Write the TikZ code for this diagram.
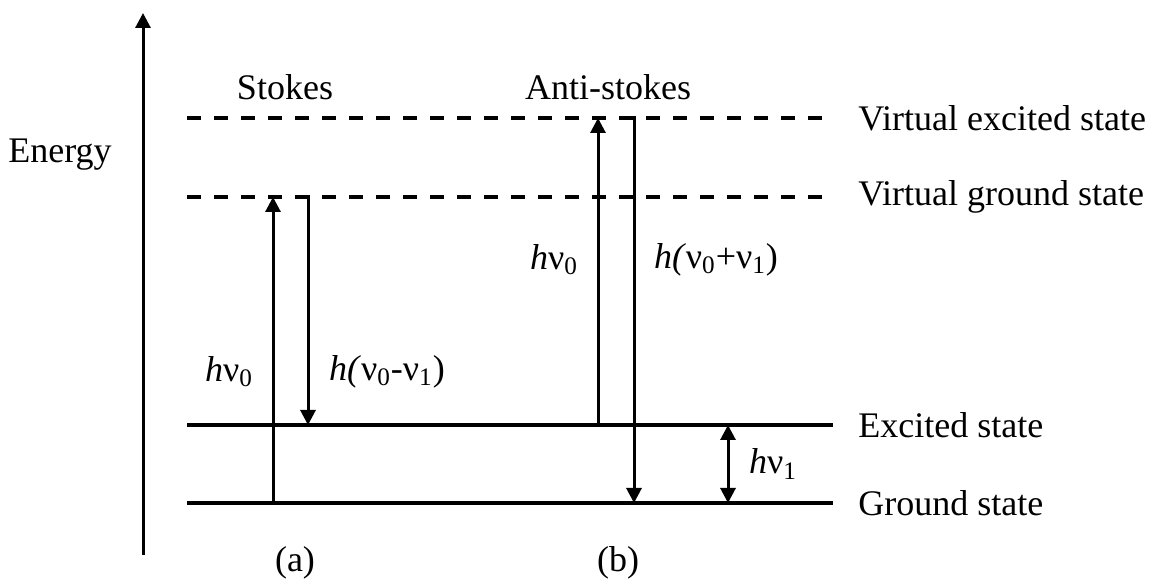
\documentclass[tikz,border=0pt]{standalone}
\usepackage{fontspec}
\setmainfont{Liberation Serif}
\usetikzlibrary{arrows.meta, positioning}
\newcommand{\nuq}[1]{ν\textsubscript{#1}}

\begin{document}
\begin{tikzpicture}[x=0.5pt, y=-0.5pt, font=\fontsize{18}{21}\selectfont,
  >={Triangle[length=7.5pt, width=7.5pt]},
  level/.style={line width=2pt},
  virt/.style={line width=2pt, dash pattern=on 7pt off 6.5pt},
  trans/.style={line width=1.5pt, ->},
  lbl/.style={inner sep=1pt}]
\useasboundingbox (0,0) rectangle (1157,582);
% ---- energy axis
\coordinate (ebot) at (143,555);
\coordinate (etop) at (143,13);
\draw[trans] (ebot) -- (etop);
\node[lbl] (energy) at (60,155) {Energy};
% ---- levels
\foreach \y/\name/\txt/\sty in {118/vex/{Virtual excited state}/virt,
    197/vgr/{Virtual ground state}/virt, 425/ex/{Excited state}/level,
    503/gr/{Ground state}/level} {
  \coordinate (\name-l) at (187,\y);
  \coordinate (\name-r) at (833,\y);
  \draw[\sty] (\name-l) -- (\name-r);
  \node[lbl, anchor=west] (\name-t) at (856,\y) {\txt};
}
% ---- columns
\coordinate (c1) at (273,0);
\coordinate (c2) at (308,0);
\coordinate (c3) at (598,0);
\coordinate (c4) at (634,0);
\coordinate (c5) at (728,0);
% ---- (a) stokes
\node[lbl] (stokes) at (285,87) {Stokes};
\draw[trans] (c1 |- gr-l) -- (c1 |- vgr-l);
\draw[trans] ([yshift=1pt]c2 |- vgr-l) -- (c2 |- ex-l);
\node[lbl] (sin) at (229,372) {\textit{h}\nuq{0}};
\node[lbl] (sout) at (387,372) {\textit{h(}\nuq{0}-\nuq{1})};
\node[lbl] (a) at (295,563) {(a)};
% ---- (b) anti-stokes
\node[lbl] (astokes) at (608,87) {Anti-stokes};
\draw[trans] (c3 |- ex-l) -- (c3 |- vex-l);
\draw[trans] ([yshift=1pt]c4 |- vex-l) -- (c4 |- gr-l);
\node[lbl] (ain) at (554,260) {\textit{h}\nuq{0}};
\node[lbl] (aout) at (716,260) {\textit{h(}\nuq{0}+\nuq{1})};
\node[lbl] (b) at (618,563) {(b)};
% ---- vibrational gap
\draw[trans, <->] (c5 |- ex-l) -- (c5 |- gr-l);
\node[lbl] (gap) at (773,464) {\textit{h}\nuq{1}};
\end{tikzpicture}
\end{document}
